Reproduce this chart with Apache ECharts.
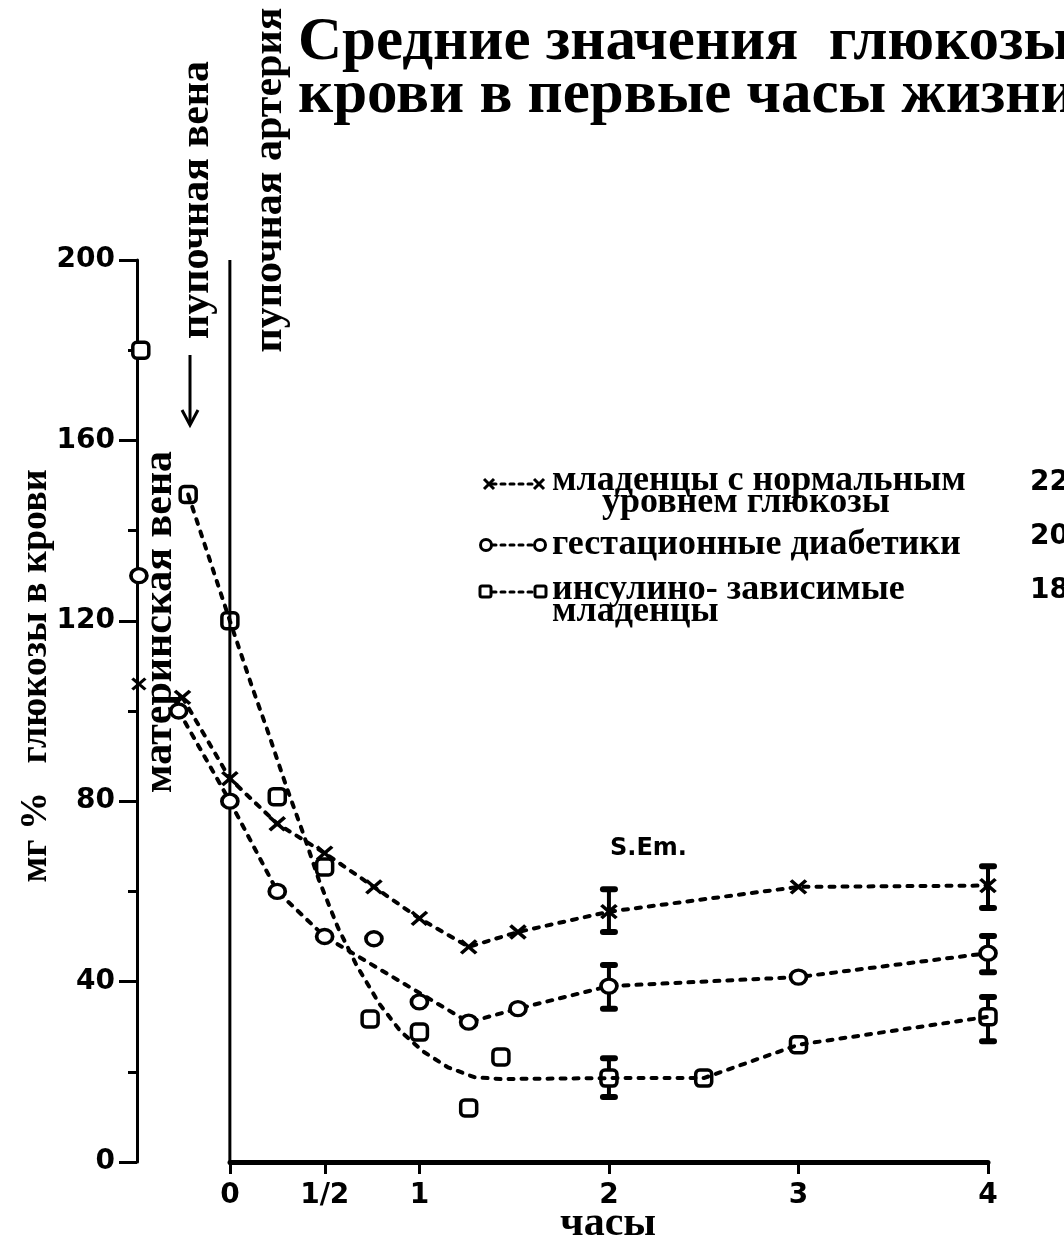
<!DOCTYPE html>
<html>
<head>
<meta charset="utf-8">
<title>Средние значения глюкозы крови</title>
<script src="https://cdn.jsdelivr.net/npm/echarts@6/dist/echarts.min.js"></script>
<style>
html, body { margin: 0; padding: 0; background: #fff; }
#chart { width: 1064px; height: 1246px; }
</style>
</head>
<body>
<div id="chart"></div>
<script>
// часы после рождения -> мг% глюкозы
const hourTicks = [0, 0.5, 1, 2, 3, 4];
const normalMeans = [[-0.25, 103], [0, 85], [0.25, 75], [0.5, 68.5], [0.76, 61], [1, 54], [1.26, 47.7], [1.52, 51], [2, 55.5], [3, 61], [4, 61.3]];
const gestMeans = [[-0.27, 100], [0, 80], [0.25, 60], [0.5, 50], [1.26, 31], [1.52, 34], [2, 39], [3, 41], [4, 46.3]];
const gestOther = [[0.76, 49.5], [1, 35.5]];
const insulinMeans = [[-0.22, 148], [0, 120], [2, 18.6], [2.5, 18.6], [3, 26], [4, 32.2]];
const insulinOther = [[0.25, 81], [0.5, 65.4], [0.74, 31.7], [1, 28.8], [1.26, 12], [1.43, 23.3]];
// сглаженная кривая
const insulinCurve = [[-0.22, 148], [0, 120], [0.12, 105], [0.2, 95.5], [0.3, 83], [0.39, 72.5], [0.47, 62.5], [0.57, 52], [0.67, 43.5], [0.79, 35], [0.9, 29], [1.02, 24.5], [1.15, 21], [1.29, 18.8], [1.43, 18.4], [2, 18.6], [2.5, 18.6], [3, 26], [4, 32.2]];
// материнская вена (на оси)
const maternalNormal = [[-0.48, 106]];
const maternalGest = [[-0.48, 130]];
const maternalInsulin = [[-0.47, 180]];
// S.Em.: [час, низ, верх]
const semBars = [[2, 51, 60.5], [4, 56.3, 65.6], [2, 34, 43.7], [4, 42.1, 50.1], [2, 14.4, 23], [4, 26.8, 36.6]];
const zeroLine = [[0, 0], [0, 200]];

const ink = '#000';
const serif = '"Liberation Serif", "DejaVu Serif", serif';
const sans = '"DejaVu Sans", sans-serif';
const crossPath = 'path://M0,0L10,9M10,0L0,9';
const dash = { color: ink, width: 4, type: [5, 8], cap: 'round' };
const openMark = { color: '#fff', borderColor: ink, borderWidth: 3.5, opacity: 1 };

const chart = echarts.init(document.getElementById('chart'));

function vText(text, x, y, size) {
    return {
        type: 'text', x: x, y: y, rotation: Math.PI / 2,
        style: { text: text, font: 'bold ' + size + 'px ' + serif, fill: ink, align: 'center', verticalAlign: 'middle' }
    };
}
function hText(text, x, y, font, align) {
    return {
        type: 'text', x: x, y: y,
        style: { text: text, font: font, fill: ink, align: align || 'left', verticalAlign: 'middle' }
    };
}
function legendLine(y) {
    return { type: 'line', shape: { x1: 492, y1: y, x2: 536, y2: y }, style: { stroke: ink, lineWidth: 3, lineDash: [4, 5], lineCap: 'round' } };
}
function cross(cx, cy) {
    return {
        type: 'group', children: [
            { type: 'line', shape: { x1: cx - 5, y1: cy - 5, x2: cx + 5, y2: cy + 5 }, style: { stroke: ink, lineWidth: 3 } },
            { type: 'line', shape: { x1: cx + 5, y1: cy - 5, x2: cx - 5, y2: cy + 5 }, style: { stroke: ink, lineWidth: 3 } }
        ]
    };
}

const legendFont = 'bold 36px ' + serif;
const numFont = 'bold 28px ' + sans;

chart.setOption({
    animation: false,
    backgroundColor: '#fff',
    grid: [
        { left: 137, right: 76, top: 260, bottom: 84 },
        { left: 230, right: 76, top: 260, bottom: 84 }
    ],
    xAxis: [
        { gridIndex: 0, type: 'value', min: -0.49, max: 4, show: false },
        {
            gridIndex: 1, type: 'value', min: 0, max: 4,
            axisLine: { lineStyle: { color: ink, width: 5 } },
            axisTick: { customValues: hourTicks, length: 12, lineStyle: { color: ink, width: 3 } },
            axisLabel: {
                customValues: hourTicks, margin: 20, color: ink, fontFamily: sans, fontWeight: 'bold', fontSize: 28,
                formatter: v => (v === 0.5 ? '1/2' : String(v))
            },
            splitLine: { show: false }
        }
    ],
    yAxis: [
        {
            gridIndex: 0, type: 'value', min: 0, max: 200, interval: 40,
            axisLine: { show: true, onZero: false, lineStyle: { color: ink, width: 3 } },
            axisTick: { show: true, length: 18, lineStyle: { color: ink, width: 3 } },
            minorTick: { show: true, splitNumber: 2, length: 9, lineStyle: { color: ink, width: 3 } },
            axisLabel: { margin: 22, color: ink, fontFamily: sans, fontWeight: 'bold', fontSize: 28 },
            splitLine: { show: false }
        },
        { gridIndex: 1, type: 'value', min: 0, max: 200, show: false }
    ],
    series: [
        {
            name: 'пупочная артерия', type: 'line', data: zeroLine, symbol: 'none',
            lineStyle: { color: ink, width: 3 }, silent: true
        },
        {
            name: 'S.Em.', type: 'custom', data: semBars, encode: { x: 0, y: [1, 2] },
            renderItem: function (params, api) {
                const top = api.coord([api.value(0), api.value(2)]);
                const bot = api.coord([api.value(0), api.value(1)]);
                const w = 6;
                const cap = { stroke: ink, lineWidth: 6, lineCap: 'round' };
                return {
                    type: 'group', children: [
                        { type: 'line', shape: { x1: top[0], y1: top[1], x2: bot[0], y2: bot[1] }, style: { stroke: ink, lineWidth: 4 } },
                        { type: 'line', shape: { x1: top[0] - w, y1: top[1], x2: top[0] + w, y2: top[1] }, style: cap },
                        { type: 'line', shape: { x1: bot[0] - w, y1: bot[1], x2: bot[0] + w, y2: bot[1] }, style: cap }
                    ]
                };
            }
        },
        {
            name: 'инсулино-зависимые (кривая)', type: 'line', data: insulinCurve, symbol: 'none',
            smooth: false, lineStyle: dash
        },
        {
            name: 'младенцы с нормальным уровнем глюкозы', type: 'line', data: normalMeans,
            symbol: crossPath, symbolSize: [15, 13], showAllSymbol: true,
            itemStyle: { color: ink, borderColor: ink, borderWidth: 3.5 },
            lineStyle: dash
        },
        {
            name: 'гестационные диабетики', type: 'line', data: gestMeans,
            symbol: 'circle', symbolSize: [16, 14], showAllSymbol: true,
            itemStyle: openMark, lineStyle: dash
        },
        {
            name: 'гестационные диабетики (отд.)', type: 'scatter', data: gestOther.concat(maternalGest),
            symbol: 'circle', symbolSize: [16, 14], itemStyle: openMark
        },
        {
            name: 'инсулино-зависимые', type: 'scatter', data: insulinMeans.concat(insulinOther, maternalInsulin),
            symbol: 'roundRect', symbolSize: [16, 16], itemStyle: openMark
        },
        {
            name: 'нормальные (мать)', type: 'scatter', data: maternalNormal,
            symbol: crossPath, symbolSize: [13, 11],
            itemStyle: { color: ink, borderColor: ink, borderWidth: 3, opacity: 1 }
        }
    ],
    graphic: [
        hText('Средние значения  глюкозы', 298, 43, 'bold 61px ' + serif),
        hText('крови в первые часы жизни', 298, 96, 'bold 61px ' + serif),
        vText('пупочная вена', 197, 200, 42),
        vText('пупочная артерия', 270, 180, 42),
        vText('материнская вена', 160, 622, 42),
        vText('мг %   глюкозы в крови', 36, 676, 38),
        hText('часы', 608, 1224, 'bold 42px ' + serif, 'center'),
        // стрелка к пупочной вене
        { type: 'line', shape: { x1: 190, y1: 355, x2: 190, y2: 424 }, style: { stroke: ink, lineWidth: 3 } },
        { type: 'polyline', shape: { points: [[182, 410], [190, 425], [198, 410]] }, style: { stroke: ink, lineWidth: 3, fill: null } },
        hText('S.Em.', 610, 849, 'bold 24px ' + sans),
        // легенда
        legendLine(484), cross(489, 484), cross(539, 484),
        hText('младенцы с нормальным', 552, 481, legendFont),
        hText('уровнем глюкозы', 602, 503, legendFont),
        hText('22', 1030, 483, numFont),
        legendLine(545),
        { type: 'circle', shape: { cx: 486, cy: 545, r: 5.5 }, style: { fill: '#fff', stroke: ink, lineWidth: 3 } },
        { type: 'circle', shape: { cx: 540, cy: 545, r: 5.5 }, style: { fill: '#fff', stroke: ink, lineWidth: 3 } },
        hText('гестационные диабетики', 552, 545, legendFont),
        hText('20', 1030, 537, numFont),
        legendLine(592),
        { type: 'rect', shape: { x: 480, y: 586, width: 11, height: 11, r: 2 }, style: { fill: '#fff', stroke: ink, lineWidth: 3 } },
        { type: 'rect', shape: { x: 535, y: 586, width: 11, height: 11, r: 2 }, style: { fill: '#fff', stroke: ink, lineWidth: 3 } },
        hText('инсулино- зависимые', 552, 590, legendFont),
        hText('младенцы', 552, 612, legendFont),
        hText('18', 1030, 591, numFont)
    ]
});
</script>
</body>
</html>
